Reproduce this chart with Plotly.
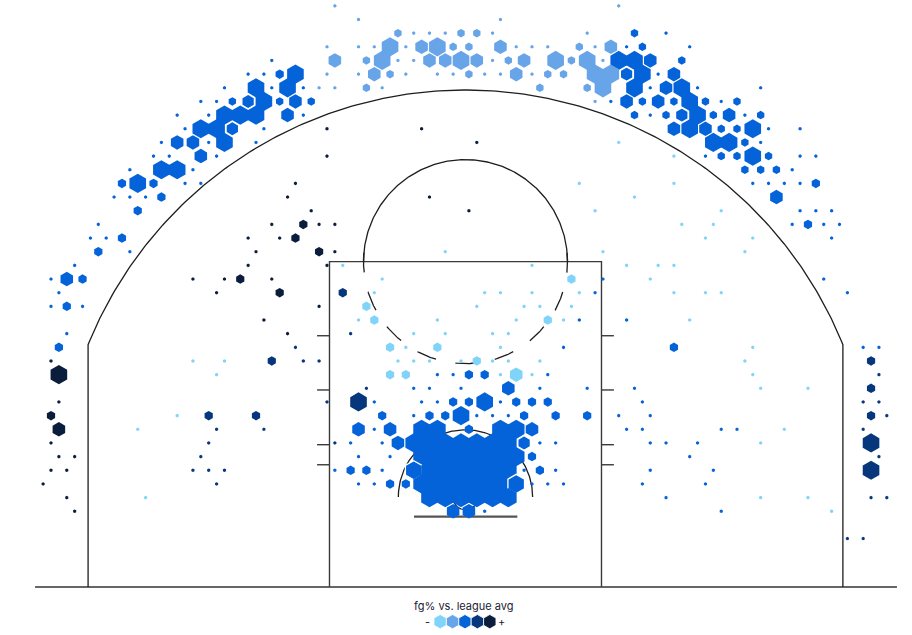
import numpy as np
import plotly.graph_objects as go

# ---------------- data: hex bins ----------------
# each row of the hex lattice: (column, size level 1-5, tone 1-5)
# tone: 1 = well below league avg ... 5 = well above
ROW_BINS = {
    0: [(21, 1, 2), (39, 1, 2)],
    1: [(22, 1, 2), (31, 1, 2)],
    2: [(25, 2, 2), (26, 1, 2), (27, 1, 2), (28, 1, 2), (29, 2, 2), (30, 2, 2), (31, 1, 2), (37, 1, 2),
        (40, 2, 3), (42, 1, 3)],
    3: [(20, 1, 2), (22, 1, 2), (23, 1, 2), (24, 5, 2), (25, 1, 2), (26, 4, 2), (27, 5, 2), (28, 2, 2),
        (29, 2, 2), (31, 4, 2), (32, 1, 2), (33, 1, 2), (34, 1, 2), (36, 2, 2), (37, 1, 2), (38, 4, 2),
        (39, 1, 3), (40, 2, 3), (43, 1, 3)],
    4: [(17, 1, 3), (21, 4, 2), (23, 2, 2), (24, 5, 2), (25, 1, 2), (26, 1, 2), (27, 4, 2), (28, 4, 2),
        (29, 5, 2), (30, 4, 2), (31, 1, 2), (32, 2, 2), (33, 4, 2), (35, 5, 2), (36, 2, 2), (37, 5, 2),
        (38, 1, 2), (39, 5, 3), (40, 5, 3), (41, 4, 3), (43, 2, 3)],
    5: [(15, 1, 3), (16, 1, 3), (17, 3, 3), (18, 5, 3), (20, 1, 2), (22, 1, 2), (23, 4, 2), (24, 2, 2),
        (25, 1, 2), (27, 1, 2), (28, 1, 2), (29, 2, 2), (30, 1, 2), (31, 1, 2), (32, 4, 2), (33, 1, 2),
        (34, 2, 2), (35, 2, 2), (37, 5, 2), (38, 5, 2), (39, 4, 3), (40, 5, 3), (41, 1, 3), (42, 4, 3)],
    6: [(14, 1, 3), (16, 5, 3), (17, 1, 3), (18, 5, 3), (19, 1, 3), (20, 1, 2), (21, 1, 2), (23, 2, 2),
        (24, 1, 2), (34, 2, 2), (37, 2, 2), (38, 5, 2), (40, 5, 3), (41, 1, 3), (42, 4, 3), (43, 5, 3),
        (44, 1, 3), (48, 1, 3)],
    7: [(12, 1, 3), (13, 1, 3), (14, 2, 3), (15, 4, 3), (16, 5, 3), (17, 2, 3), (18, 4, 3), (19, 2, 3),
        (37, 1, 2), (38, 1, 3), (39, 4, 3), (40, 2, 3), (41, 4, 3), (42, 2, 3), (43, 5, 3), (44, 2, 3),
        (45, 1, 3), (46, 2, 3)],
    8: [(11, 1, 3), (13, 1, 3), (14, 5, 3), (15, 5, 3), (16, 5, 3), (18, 4, 3), (19, 1, 3), (40, 2, 3),
        (41, 1, 3), (42, 2, 3), (43, 4, 3), (44, 5, 3), (45, 2, 3), (46, 4, 3), (47, 1, 3), (48, 2, 3)],
    9: [(11, 1, 3), (12, 5, 3), (13, 5, 3), (14, 4, 3), (16, 1, 3), (20, 1, 5), (26, 1, 5), (42, 4, 3),
        (43, 5, 3), (44, 4, 3), (45, 2, 3), (46, 2, 3), (47, 5, 3), (48, 1, 3), (50, 1, 3)],
    10: [(10, 1, 3), (11, 4, 3), (12, 4, 3), (13, 1, 3), (14, 5, 3), (16, 1, 3), (30, 1, 5), (39, 1, 1),
         (45, 5, 3), (46, 5, 3), (47, 2, 3), (48, 1, 3)],
    11: [(9, 1, 3), (10, 1, 3), (12, 4, 3), (13, 1, 3), (20, 1, 5), (42, 1, 1), (44, 1, 3), (45, 2, 3),
         (46, 2, 3), (47, 5, 3), (48, 2, 3), (50, 1, 3), (51, 1, 3)],
    12: [(8, 1, 3), (10, 5, 3), (11, 5, 3), (12, 1, 3), (47, 2, 3), (48, 2, 3), (49, 2, 3), (50, 1, 3)],
    13: [(7, 3, 3), (8, 5, 3), (9, 3, 3), (11, 1, 3), (12, 1, 3), (18, 1, 5), (36, 1, 1), (42, 1, 1),
         (47, 1, 3), (48, 1, 3), (49, 1, 3), (50, 1, 3), (51, 3, 3)],
    14: [(7, 1, 3), (8, 1, 3), (9, 1, 3), (10, 3, 3), (18, 1, 5), (27, 1, 5), (40, 1, 1), (49, 4, 3)],
    15: [(8, 3, 3), (19, 1, 5), (29, 1, 5), (37, 1, 1), (45, 1, 1), (50, 1, 3), (51, 1, 3), (52, 1, 3)],
    16: [(6, 1, 3), (17, 1, 5), (19, 3, 5), (20, 1, 5), (21, 1, 5), (43, 1, 1), (45, 1, 1), (50, 1, 3),
         (51, 3, 3), (52, 1, 3), (53, 1, 3)],
    17: [(5, 1, 3), (6, 1, 3), (7, 3, 3), (15, 1, 5), (17, 1, 5), (18, 3, 5), (44, 1, 1), (47, 1, 1),
         (52, 1, 3)],
    18: [(6, 3, 3), (8, 1, 3), (16, 1, 5), (20, 3, 5), (21, 1, 5), (28, 1, 1), (38, 1, 1), (47, 1, 1)],
    19: [(4, 1, 3), (15, 1, 5), (20, 1, 5), (21, 1, 1), (33, 1, 1), (39, 1, 1), (41, 1, 1), (42, 1, 1)],
    20: [(3, 1, 3), (4, 4, 3), (5, 3, 3), (12, 1, 5), (14, 1, 5), (15, 3, 5), (17, 1, 5), (24, 1, 1),
         (36, 3, 1), (38, 1, 3), (41, 1, 1), (52, 1, 3)],
    21: [(3, 1, 3), (13, 1, 5), (17, 3, 5), (21, 3, 4), (23, 1, 1), (30, 1, 1), (31, 1, 1), (33, 1, 1),
         (36, 1, 1), (37, 1, 3), (42, 1, 1), (44, 1, 1), (45, 1, 1), (53, 1, 3)],
    22: [(3, 1, 3), (4, 3, 3), (5, 1, 3), (20, 1, 5), (23, 3, 1), (30, 1, 1), (33, 1, 1), (34, 1, 1),
         (36, 1, 1)],
    23: [(16, 1, 5), (22, 1, 1), (23, 3, 1), (27, 1, 1), (32, 1, 1), (34, 3, 1), (35, 1, 1), (36, 1, 3),
         (39, 1, 3), (43, 1, 1)],
    24: [(4, 1, 3), (18, 1, 5), (22, 1, 4), (26, 1, 1), (28, 1, 1), (31, 1, 1), (32, 1, 1)],
    25: [(3, 3, 3), (18, 1, 4), (24, 3, 1), (25, 1, 1), (27, 3, 1), (31, 1, 1), (35, 1, 3), (42, 3, 3),
         (47, 1, 1), (54, 1, 3), (55, 1, 3)],
    26: [(3, 1, 5), (12, 1, 1), (14, 1, 1), (17, 3, 4), (19, 1, 4), (20, 1, 4), (25, 1, 1), (26, 1, 1),
         (27, 1, 1), (29, 1, 1), (30, 3, 1), (31, 1, 1), (32, 1, 1), (34, 1, 1), (47, 1, 1), (55, 3, 4)],
    27: [(3, 5, 5), (13, 1, 1), (24, 3, 1), (25, 3, 1), (27, 1, 3), (28, 1, 3), (29, 3, 3), (30, 3, 3),
         (31, 1, 1), (32, 4, 1), (33, 1, 1), (34, 1, 3), (47, 1, 1), (55, 1, 4)],
    28: [(23, 1, 4), (26, 1, 3), (27, 1, 3), (29, 1, 3), (32, 4, 3), (34, 1, 3), (37, 1, 3), (40, 1, 3),
         (48, 1, 1), (51, 1, 1), (55, 3, 4)],
    29: [(3, 1, 5), (20, 1, 4), (22, 5, 4), (23, 1, 3), (26, 1, 3), (27, 1, 3), (28, 3, 3), (29, 3, 3),
         (30, 5, 3), (31, 1, 3), (32, 3, 3), (33, 3, 3), (34, 3, 3), (40, 1, 3), (54, 1, 4), (55, 1, 4)],
    30: [(3, 3, 5), (11, 1, 1), (13, 3, 4), (16, 3, 4), (24, 3, 3), (26, 1, 3), (27, 3, 3), (28, 3, 3),
         (29, 5, 3), (30, 1, 3), (31, 1, 3), (32, 1, 3), (33, 3, 3), (35, 3, 3), (37, 3, 3), (39, 1, 3),
         (41, 1, 3), (55, 3, 4), (56, 1, 4)],
    31: [(3, 4, 5), (8, 1, 1), (13, 1, 4), (16, 1, 4), (22, 4, 3), (23, 1, 3), (24, 4, 3), (26, 5, 3),
         (27, 5, 3), (29, 3, 3), (31, 5, 3), (32, 5, 3), (33, 4, 3), (39, 1, 3), (40, 1, 3), (45, 1, 3),
         (46, 1, 3), (49, 1, 1), (54, 1, 4)],
    32: [(3, 1, 5), (13, 1, 4), (21, 1, 4), (22, 1, 3), (24, 1, 3), (25, 4, 3), (26, 5, 3), (27, 5, 3),
         (28, 5, 3), (29, 5, 3), (30, 5, 3), (31, 5, 3), (32, 5, 3), (33, 4, 3), (34, 1, 3), (35, 1, 3),
         (41, 1, 3), (42, 1, 3), (44, 1, 3), (48, 1, 1), (55, 5, 4)],
    33: [(3, 1, 5), (4, 1, 5), (12, 1, 4), (22, 1, 3), (24, 1, 3), (26, 5, 3), (27, 5, 3), (28, 5, 3),
         (29, 5, 3), (30, 5, 3), (31, 5, 3), (32, 5, 3), (33, 3, 3), (43, 1, 3), (55, 1, 4)],
    34: [(3, 1, 5), (4, 1, 5), (12, 1, 4), (13, 1, 4), (14, 1, 4), (21, 1, 3), (22, 3, 3), (23, 3, 3),
         (24, 1, 3), (26, 5, 3), (27, 5, 3), (28, 5, 3), (29, 5, 3), (30, 5, 3), (31, 5, 3), (32, 5, 3),
         (33, 1, 3), (34, 3, 3), (35, 1, 3), (41, 1, 3), (45, 1, 3), (55, 5, 4)],
    35: [(2, 1, 5), (13, 1, 4), (22, 1, 3), (23, 1, 3), (24, 3, 3), (25, 3, 3), (26, 5, 3), (27, 5, 3),
         (28, 5, 3), (29, 5, 3), (30, 5, 3), (31, 5, 3), (32, 5, 3), (33, 1, 3), (34, 1, 3), (35, 1, 3),
         (40, 1, 3), (44, 1, 3)],
    36: [(4, 1, 5), (9, 1, 1), (27, 5, 3), (28, 5, 3), (29, 5, 3), (30, 5, 3), (31, 5, 3), (32, 5, 3),
         (42, 1, 3), (48, 1, 1), (51, 1, 1), (55, 1, 4), (56, 1, 4)],
    37: [(4, 1, 5), (28, 4, 3), (29, 4, 3), (30, 1, 3), (45, 1, 3), (52, 1, 1)],
    39: [(53, 1, 4), (54, 1, 4)],
}
# bins drawn with a white rim (row, column)
RIMMED_BINS = [(5, 39), (7, 15), (8, 43), (9, 14), (32, 33), (34, 26), (35, 32)]

LEGEND_TITLE = "fg% vs. league avg"
LEGEND_TONES = [1, 2, 3, 4, 5]

# flatten into named arrays
bin_row, bin_col, bin_size, bin_tone = [], [], [], []
for r, cells in ROW_BINS.items():
    for c, s, t in cells:
        bin_row.append(r)
        bin_col.append(c)
        bin_size.append(s)
        bin_tone.append(t)

# ---------------- styling / geometry ----------------
TONE_COLORS = {1: "#80d3f9", 2: "#68a4e8", 3: "#0463d9", 4: "#06367b", 5: "#0b1d3c"}
SIZE_PX = {1: 3.6, 2: 8.5, 3: 9.5, 4: 14.5, 5: 19.2}
LINE_COL = "#1e1e1e"

# hex lattice in court feet (x: 0 at hoop, y: distance from baseline)
HEX_X0, HEX_DX = -27.165, 0.92765
HEX_Y0, HEX_DY = 34.186, 0.80353

bx = np.array([HEX_X0 + HEX_DX * (c + 0.5 * (r % 2)) for r, c in zip(bin_row, bin_col)])
by = np.array([HEX_Y0 - HEX_DY * r for r in bin_row])
rims = set(RIMMED_BINS)
rim_w = [1.3 if (r, c) in rims else 0 for r, c in zip(bin_row, bin_col)]

fig = go.Figure()


def add_line(xs, ys, width=1.3, color=LINE_COL, dash="solid"):
    fig.add_trace(go.Scatter(x=xs, y=ys, mode="lines", hoverinfo="skip",
                             line=dict(color=color, width=width, dash=dash),
                             showlegend=False))


def arc(cx, cy, r, a0, a1, n=240):
    a = np.linspace(a0, a1, n)
    return cx + r * np.cos(a), cy + r * np.sin(a)


HOOP_Y = 5.294
# baseline
add_line([-25.32, 25.38], [0, 0], width=1.5, color="#333333")
# three point line
R3, XC = 23.94, 22.2
a3 = np.arcsin(np.sqrt(R3 ** 2 - XC ** 2) / R3)
ax_, ay_ = arc(0, HOOP_Y, R3, np.pi - a3, a3)
add_line(np.concatenate([[-XC], ax_, [XC]]),
         np.concatenate([[0], ay_, [0]]))
# paint
FT_Y = 19.14
add_line([-8, -8, 8, 8], [0, FT_Y, FT_Y, 0], width=1.4, color="#3a3a3a")
# lane hash marks
for hy in [14.78, 11.59, 8.37, 7.19]:
    add_line([-8.73, -8.0], [hy, hy], width=1.4, color="#3a3a3a")
    add_line([8.0, 8.73], [hy, hy], width=1.4, color="#3a3a3a")
# free throw circle
ux, uy = arc(0, FT_Y, 6.0, 0, np.pi)
add_line(ux, uy)
d = 9.2 / 102
lx, ly = arc(0, FT_Y, 6.0, np.pi - d, 2 * np.pi + d, 400)
add_line(lx, ly, dash="20px,19.8px")
# restricted area
rx, ry = arc(0, HOOP_Y, 3.95, 0, np.pi)
add_line(rx, ry)
# hoop and backboard
hx, hy2 = arc(0, HOOP_Y, 0.75, 0, 2 * np.pi, 80)
add_line(hx, hy2, width=1.2)
add_line([-3.03, 3.05], [4.135, 4.135], width=2.2, color="#555555")

# hex bins
fig.add_trace(go.Scatter(
    x=bx, y=by, mode="markers", hoverinfo="skip", showlegend=False,
    marker=dict(symbol="hexagon", opacity=1,
                size=[SIZE_PX[s] for s in bin_size],
                color=[TONE_COLORS[t] for t in bin_tone],
                line=dict(color="white", width=rim_w)),
))

# legend
LEG_Y = -2.04
leg_x = -0.03 + 0.7294 * (np.arange(len(LEGEND_TONES)) - 2)
fig.add_trace(go.Scatter(
    x=leg_x, y=[LEG_Y] * len(LEGEND_TONES), mode="markers", hoverinfo="skip", showlegend=False,
    marker=dict(symbol="hexagon", size=14.3, opacity=1, color=[TONE_COLORS[t] for t in LEGEND_TONES],
                line=dict(color="white", width=0.8)),
))
FONT = "Inter, Lato, sans-serif"
fig.add_annotation(x=-0.06, y=-1.09, text=LEGEND_TITLE, showarrow=False,
                   font=dict(family=FONT, size=11, color="#1b1b35"))
fig.add_annotation(x=-2.22, y=LEG_Y, text="-", showarrow=False,
                   font=dict(family=FONT, size=11, color="#1b1b35"))
fig.add_annotation(x=2.09, y=LEG_Y, text="+", showarrow=False,
                   font=dict(family=FONT, size=11, color="#1b1b35"))

fig.update_layout(
    width=912, height=635, autosize=False,
    margin=dict(l=0, r=0, t=0, b=0),
    paper_bgcolor="white", plot_bgcolor="white",
    xaxis=dict(range=[-27.382, 26.265], visible=False, fixedrange=True),
    yaxis=dict(range=[-2.824, 34.529], visible=False, fixedrange=True),
)
fig.write_html("out.html", post_script="document.body.style.margin='0px';",
               config={"displayModeBar": False})
